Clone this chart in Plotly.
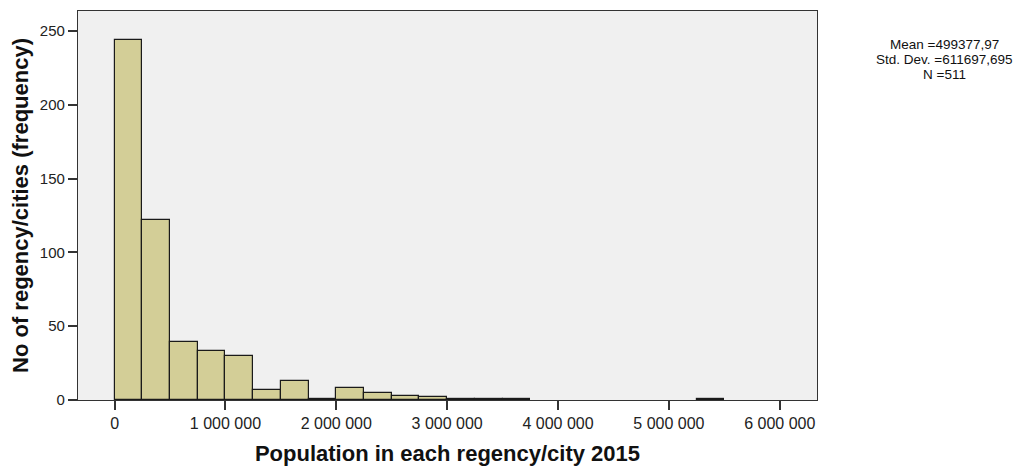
import plotly.graph_objects as go

# Histogram data (bin width 250 000, bins starting at 0)
bin_width = 250000
bin_starts = [0, 250000, 500000, 750000, 1000000, 1250000, 1500000, 1750000,
              2000000, 2250000, 2500000, 2750000, 3000000, 3250000, 3500000, 5250000]
counts = [244, 122, 39, 33, 30, 7, 13, 1, 8, 5, 3, 2, 1, 1, 1, 1]

x_tick_vals = [0, 1000000, 2000000, 3000000, 4000000, 5000000, 6000000]
x_tick_text = ["0", "1 000 000", "2 000 000", "3 000 000", "4 000 000", "5 000 000", "6 000 000"]
y_tick_vals = [0, 50, 100, 150, 200, 250]

stats_lines = ["Mean =499377,97", "Std. Dev. =611697,695", "N =511"]

centers = [s + bin_width / 2 for s in bin_starts]

fig = go.Figure()
fig.add_trace(go.Bar(
    x=centers, y=counts, width=[bin_width] * len(counts),
    marker=dict(color="#D3CE97", line=dict(color="#1a1a1a", width=1.2)),
    showlegend=False, hoverinfo="x+y",
))

font_family = "Liberation Sans, Arial, sans-serif"

# page body has an 8px margin, so the figure is 8px smaller on each side
fig.update_layout(
    width=1026, height=463,
    margin=dict(l=70, r=217, t=3, b=71),
    paper_bgcolor="white",
    plot_bgcolor="#F0F0F0",
    font=dict(family=font_family, color="#222222", size=15),
    bargap=0,
    xaxis=dict(
        range=[-330000, 6336000],
        tickvals=x_tick_vals, ticktext=x_tick_text,
        ticks="outside", ticklen=9, tickcolor="#333333", tickwidth=1.5,
        showgrid=False, zeroline=False,
        showline=True, linecolor="#333333", linewidth=1.2, mirror=True,
        tickfont=dict(size=16),
        title=dict(text="<b>Population in each regency/city 2015</b>",
                   font=dict(size=22, color="#111111"), standoff=14),
    ),
    yaxis=dict(
        range=[0, 263.5],
        tickvals=y_tick_vals,
        ticks="outside", ticklen=9, tickcolor="#333333", tickwidth=1.5,
        showgrid=False, zeroline=False,
        showline=True, linecolor="#333333", linewidth=1.2, mirror=True,
        tickfont=dict(size=15),
        title=dict(text="<b>No of regency/cities (frequency)</b>",
                   font=dict(size=22, color="#111111"), standoff=6),
    ),
)

for i, line in enumerate(stats_lines):
    fig.add_annotation(
        xref="paper", yref="paper", x=1.172, y=(392 - 37 - 14.5 * i) / 389,
        text=line, showarrow=False, xanchor="center", yanchor="middle",
        font=dict(size=13.5, color="#111111", family=font_family),
    )

fig.write_html("out.html")
